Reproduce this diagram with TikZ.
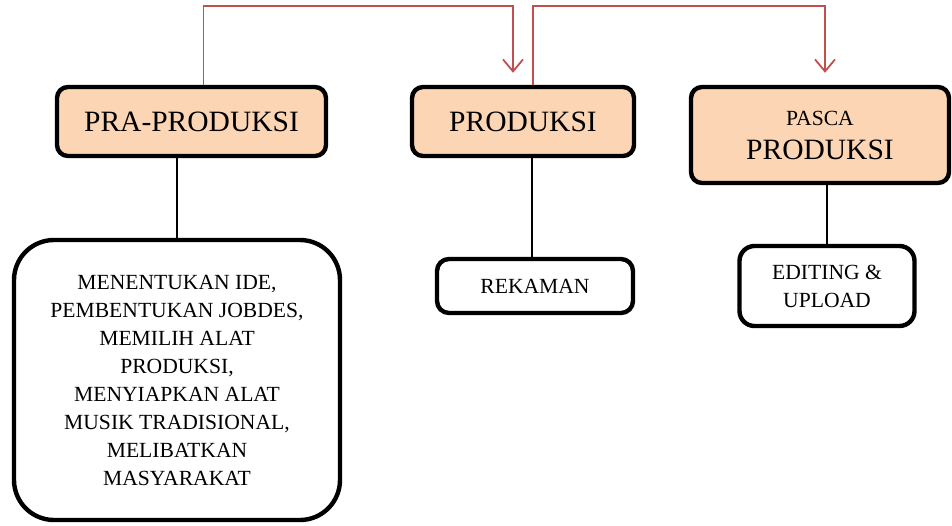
\documentclass[tikz,border=0pt]{standalone}
\usepackage{fontspec}
\setmainfont{Liberation Serif}
\usepackage{xcolor}
\definecolor{peach}{RGB}{252,213,180}
\definecolor{flowred}{RGB}{192,80,77}
\usetikzlibrary{arrows.meta}

\begin{document}
\begin{tikzpicture}[x=1pt, y=-1pt,
    stage/.style={draw=black, fill=peach, line width=4.4pt, rounded corners=11pt,
        inner sep=0pt, align=center, font=\fontsize{29.5}{33}\selectfont},
    task/.style={draw=black, fill=white, line width=4.4pt, rounded corners=12pt,
        inner sep=0pt, align=center, font=\fontsize{21.6}{28}\selectfont},
    link/.style={black, line width=1.4pt},
    flow/.style={flowred, line width=1.8pt,
        -{Straight Barb[length=12pt, width=20pt, line width=1.8pt]}},
]

\useasboundingbox (0,0) rectangle (952,525);

%% --- tahap utama ---
\node[stage, minimum width=269, minimum height=69] (pra) at (191.5,121.5)
    {PRA-PRODUKSI};
\node[stage, minimum width=222, minimum height=69] (prod) at (523,121.5)
    {PRODUKSI};
\node[stage, minimum width=258, minimum height=96] (pasca) at (820,135)
    {{\fontsize{21.6}{24}\selectfont PASCA}\\[1pt]PRODUKSI};

%% --- rincian kegiatan ---
\node[task, rounded corners=40pt, minimum width=326, minimum height=280] (ide)
    at (177,380)
    {MENENTUKAN IDE,\\ PEMBENTUKAN JOBDES,\\ MEMILIH ALAT\\ PRODUKSI,\\
     MENYIAPKAN ALAT\\ MUSIK TRADISIONAL,\\ MELIBATKAN\\ MASYARAKAT};
\node[task, minimum width=196, minimum height=54] (rekam) at (535,286)
    {REKAMAN};
\node[task, rounded corners=15pt, minimum width=175, minimum height=80] (edit)
    at (827,286)
    {EDITING \&\\ UPLOAD};

%% --- garis ke rincian ---
\draw[link] (pra.south -| ide.north) -- (ide.north);
\draw[link] (prod.south -| 532,0) -- (rekam.north -| 532,0);
\draw[link] (pasca.south -| edit.north) -- (edit.north);

%% --- alur antar tahap ---
\draw[flow] ([xshift=12pt]pra.north) -- ++(0,-79)
    -| ([xshift=-10pt,yshift=12pt]prod.north);
\draw[flow] ([xshift=10pt]prod.north) -- ++(0,-79)
    -| ([xshift=5pt,yshift=12pt]pasca.north);

\end{tikzpicture}
\end{document}
